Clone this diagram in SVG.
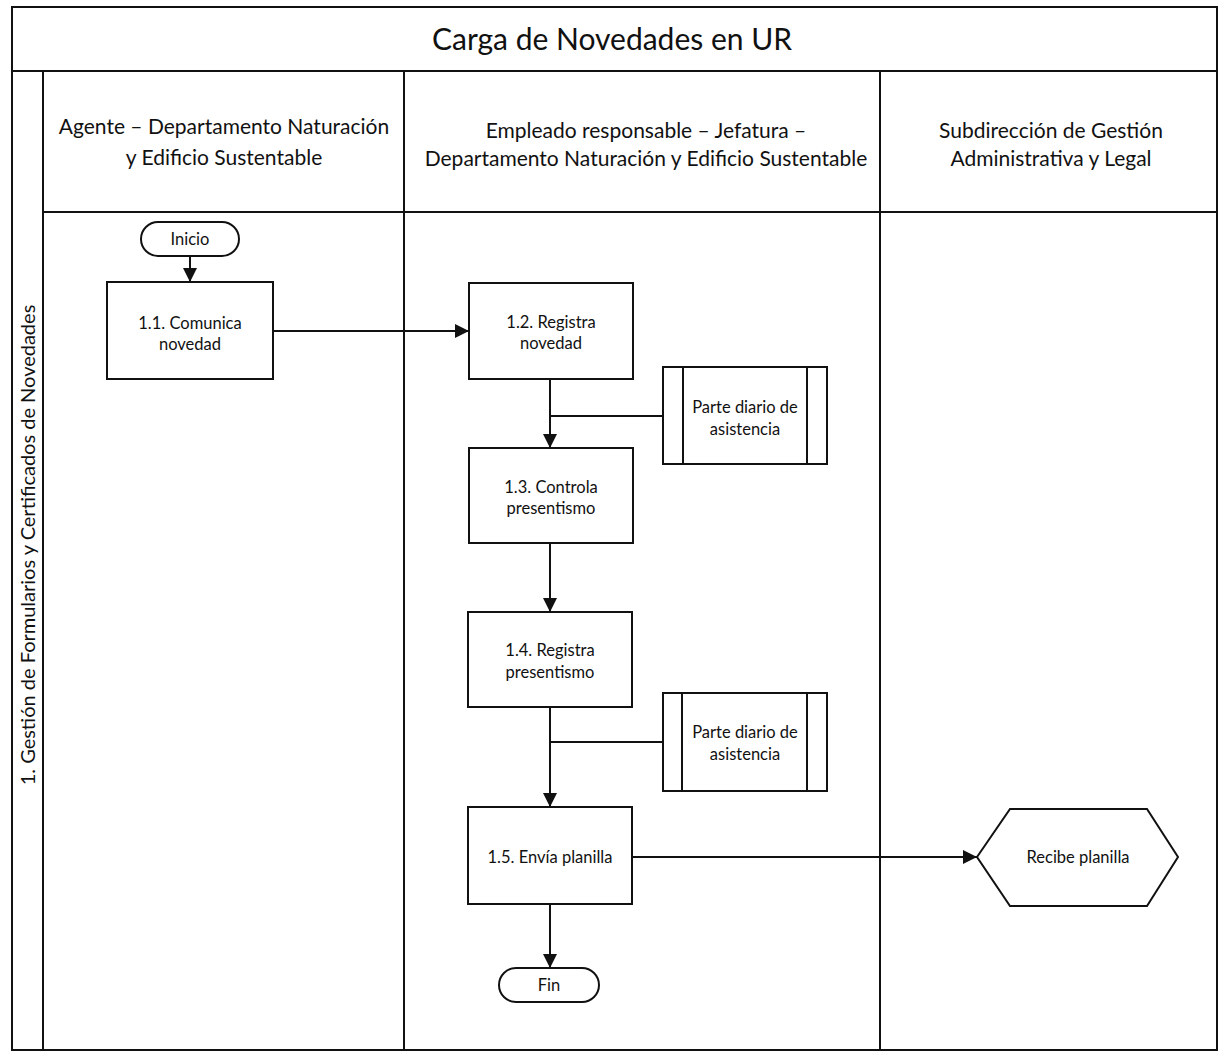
<svg xmlns="http://www.w3.org/2000/svg" width="1220" height="1053" viewBox="0 0 1220 1053">
  <style>
    .frame { fill: none; stroke: #111; stroke-width: 2; }
    .box { fill: #fff; stroke: #111; stroke-width: 2; }
    .wire { fill: none; stroke: #111; stroke-width: 2; }
    .t { font-family: Lato, "Liberation Sans", sans-serif; fill: #111; text-anchor: middle; }
    .title { font-size: 30px; }
    .hdr { font-size: 21px; }
    .pool { font-size: 20px; }
    .lbl { font-size: 16.5px; }
  </style>
  <defs>
    <marker id="arrow" viewBox="0 0 14 14" refX="14" refY="7" markerWidth="14" markerHeight="14" markerUnits="userSpaceOnUse" orient="auto">
      <path d="M0,0 L14,7 L0,14 Z" fill="#111"/>
    </marker>
  </defs>

  <rect x="0" y="0" width="1220" height="1053" fill="#fff"/>

  <!-- pool frame, title bar and lanes -->
  <g id="pool">
    <rect class="frame" x="12" y="7" width="1205" height="1043"/>
    <line class="frame" x1="12" y1="71" x2="1217" y2="71"/>
    <line class="frame" x1="43" y1="71" x2="43" y2="1050"/>
    <line class="frame" x1="43" y1="212" x2="1217" y2="212"/>
    <line class="frame" x1="404" y1="71" x2="404" y2="1050"/>
    <line class="frame" x1="880" y1="71" x2="880" y2="1050"/>
    <text class="t title" x="612" y="50">Carga de Novedades en UR</text>
    <text class="t pool" transform="translate(35,545) rotate(-90)">1. Gestión de Formularios y Certificados de Novedades</text>
  </g>

  <g id="lane-agente">
    <text class="t hdr" x="224" y="134">Agente – Departamento Naturación</text>
    <text class="t hdr" x="224" y="165">y Edificio Sustentable</text>
  </g>
  <g id="lane-empleado">
    <text class="t hdr" x="646" y="138">Empleado responsable – Jefatura –</text>
    <text class="t hdr" x="646" y="166">Departamento Naturación y Edificio Sustentable</text>
  </g>
  <g id="lane-subdireccion">
    <text class="t hdr" x="1051" y="138">Subdirección de Gestión</text>
    <text class="t hdr" x="1051" y="166">Administrativa y Legal</text>
  </g>

  <!-- connectors -->
  <g id="connectors">
    <line class="wire" x1="190" y1="256" x2="190" y2="282" marker-end="url(#arrow)"/>
    <line class="wire" x1="273" y1="331" x2="469" y2="331" marker-end="url(#arrow)"/>
    <line class="wire" x1="550" y1="379" x2="550" y2="448" marker-end="url(#arrow)"/>
    <line class="wire" x1="550" y1="416" x2="663" y2="416"/>
    <line class="wire" x1="550" y1="543" x2="550" y2="612" marker-end="url(#arrow)"/>
    <line class="wire" x1="550" y1="707" x2="550" y2="807" marker-end="url(#arrow)"/>
    <line class="wire" x1="550" y1="742" x2="663" y2="742"/>
    <line class="wire" x1="632" y1="857" x2="977" y2="857" marker-end="url(#arrow)"/>
    <line class="wire" x1="550" y1="904" x2="550" y2="968" marker-end="url(#arrow)"/>
  </g>

  <g id="inicio">
    <rect class="box" x="141" y="222" width="98" height="34" rx="17"/>
    <text class="t lbl" x="190" y="245">Inicio</text>
  </g>

  <g id="n1-1">
    <rect class="box" x="107" y="282" width="166" height="97"/>
    <text class="t lbl" x="190" y="329">1.1. Comunica</text>
    <text class="t lbl" x="190" y="350">novedad</text>
  </g>

  <g id="n1-2">
    <rect class="box" x="469" y="283" width="164" height="96"/>
    <text class="t lbl" x="551" y="328">1.2. Registra</text>
    <text class="t lbl" x="551" y="349">novedad</text>
  </g>

  <g id="doc1">
    <rect class="box" x="663" y="367" width="164" height="97"/>
    <line class="wire" x1="683" y1="367" x2="683" y2="464"/>
    <line class="wire" x1="807" y1="367" x2="807" y2="464"/>
    <text class="t lbl" x="745" y="413">Parte diario de</text>
    <text class="t lbl" x="745" y="435">asistencia</text>
  </g>

  <g id="n1-3">
    <rect class="box" x="469" y="448" width="164" height="95"/>
    <text class="t lbl" x="551" y="493">1.3. Controla</text>
    <text class="t lbl" x="551" y="514">presentismo</text>
  </g>

  <g id="n1-4">
    <rect class="box" x="468" y="612" width="164" height="95"/>
    <text class="t lbl" x="550" y="656">1.4. Registra</text>
    <text class="t lbl" x="550" y="678">presentismo</text>
  </g>

  <g id="doc2">
    <rect class="box" x="663" y="693" width="164" height="98"/>
    <line class="wire" x1="682" y1="693" x2="682" y2="791"/>
    <line class="wire" x1="807" y1="693" x2="807" y2="791"/>
    <text class="t lbl" x="745" y="738">Parte diario de</text>
    <text class="t lbl" x="745" y="760">asistencia</text>
  </g>

  <g id="n1-5">
    <rect class="box" x="468" y="807" width="164" height="97"/>
    <text class="t lbl" x="550" y="863">1.5. Envía planilla</text>
  </g>

  <g id="fin">
    <rect class="box" x="499" y="968" width="100" height="34" rx="17"/>
    <text class="t lbl" x="549" y="991">Fin</text>
  </g>

  <g id="recibe">
    <polygon class="box" points="977,857 1010,809 1147,809 1178,857 1147,906 1010,906"/>
    <text class="t lbl" x="1078" y="863">Recibe planilla</text>
  </g>
</svg>
